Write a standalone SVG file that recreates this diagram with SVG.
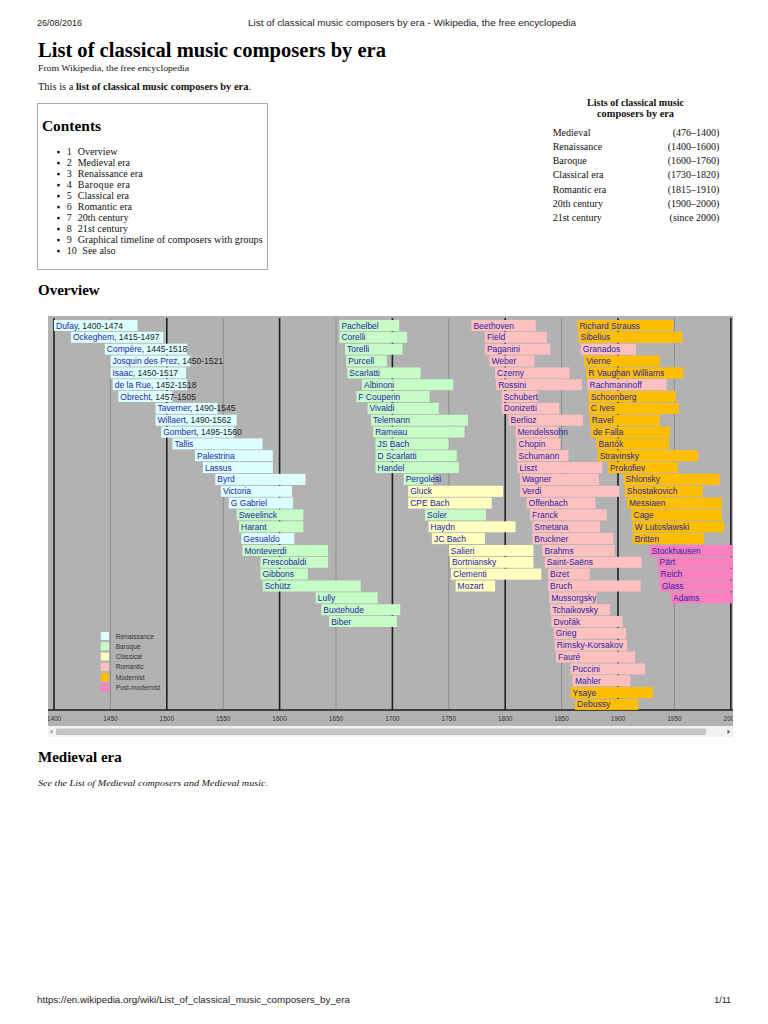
<svg xmlns="http://www.w3.org/2000/svg" width="768" height="1024" viewBox="0 0 768 1024">
<style>
.sans{font-family:"Liberation Sans",Arial,sans-serif}
.serif{font-family:"Liberation Serif","Times New Roman",serif}
.n{font-family:"Liberation Sans",Arial,sans-serif;font-size:8.5px;fill:#2424a8}
.yr{fill:#222}
.R{fill:#ddffff}
.B{fill:#c6fcc6}
.C{fill:#ffffc0}
.P{fill:#ffc0c0}
.M{fill:#ffbf00}
.X{fill:#fb80c0}
.maj{stroke:#1e1e1e;stroke-width:1.6}
.min{stroke:#8c8c8c;stroke-width:1}
.ax{font-family:"Liberation Sans",Arial,sans-serif;font-size:6.5px;fill:#333;text-anchor:middle}
.lg{font-family:"Liberation Sans",Arial,sans-serif;font-size:6.6px;fill:#333}
.toc{font-family:"Liberation Serif","Times New Roman",serif;font-size:10px;fill:#111}
.side{font-family:"Liberation Serif","Times New Roman",serif;font-size:10px;fill:#111}
</style>
<defs>
<clipPath id="chartclip"><rect x="48" y="316" width="685" height="410"/></clipPath>
</defs>
<rect width="768" height="1024" fill="#fff"/>

<!-- page header -->
<text class="sans" x="37" y="26" font-size="9" fill="#222" textLength="45">26/08/2016</text>
<text class="sans" x="248" y="26" font-size="9.5" fill="#222" textLength="328" lengthAdjust="spacingAndGlyphs">List of classical music composers by era - Wikipedia, the free encyclopedia</text>

<text class="serif" x="38" y="57" font-size="20" font-weight="bold" fill="#000" textLength="348" lengthAdjust="spacingAndGlyphs">List of classical music composers by era</text>
<text class="serif" x="38" y="71" font-size="8.5" fill="#111" textLength="151" lengthAdjust="spacingAndGlyphs">From Wikipedia, the free encyclopedia</text>
<text class="serif" x="38" y="90" font-size="9.5" fill="#111" textLength="213" lengthAdjust="spacingAndGlyphs">This is a <tspan font-weight="bold">list of classical music composers by era</tspan>.</text>

<!-- contents box -->
<g id="contents">
<rect x="37.5" y="103.5" width="230" height="166" fill="#fff" stroke="#aaa" stroke-width="1"/>
<text class="serif" x="42" y="131" font-size="14.5" font-weight="bold" fill="#000" textLength="59" lengthAdjust="spacingAndGlyphs">Contents</text>
<g fill="#111">
<rect x="57.3" y="150.9" width="2.4" height="2.4"/>
<rect x="57.3" y="161.9" width="2.4" height="2.4"/>
<rect x="57.3" y="172.9" width="2.4" height="2.4"/>
<rect x="57.3" y="183.9" width="2.4" height="2.4"/>
<rect x="57.3" y="194.9" width="2.4" height="2.4"/>
<rect x="57.3" y="205.9" width="2.4" height="2.4"/>
<rect x="57.3" y="216.9" width="2.4" height="2.4"/>
<rect x="57.3" y="227.9" width="2.4" height="2.4"/>
<rect x="57.3" y="238.9" width="2.4" height="2.4"/>
<rect x="57.3" y="249.9" width="2.4" height="2.4"/>
</g>
<text class="toc" x="66.7" y="154.7">1</text><text class="toc" x="77.7" y="154.7" textLength="39.7">Overview</text>
<text class="toc" x="66.7" y="165.7">2</text><text class="toc" x="77.7" y="165.7" textLength="52.3">Medieval era</text>
<text class="toc" x="66.7" y="176.7">3</text><text class="toc" x="77.7" y="176.7" textLength="65">Renaissance era</text>
<text class="toc" x="66.7" y="187.7">4</text><text class="toc" x="77.7" y="187.7" textLength="52.3">Baroque era</text>
<text class="toc" x="66.7" y="198.7">5</text><text class="toc" x="77.7" y="198.7" textLength="51.3">Classical era</text>
<text class="toc" x="66.7" y="209.7">6</text><text class="toc" x="77.7" y="209.7" textLength="54.3">Romantic era</text>
<text class="toc" x="66.7" y="220.7">7</text><text class="toc" x="77.7" y="220.7" textLength="50.7">20th century</text>
<text class="toc" x="66.7" y="231.7">8</text><text class="toc" x="77.7" y="231.7" textLength="50.3">21st century</text>
<text class="toc" x="66.7" y="242.7">9</text><text class="toc" x="77.7" y="242.7" textLength="185" lengthAdjust="spacingAndGlyphs">Graphical timeline of composers with groups</text>
<text class="toc" x="66.7" y="253.7">10</text><text class="toc" x="82.3" y="253.7" textLength="33.3">See also</text>
</g>

<!-- sidebar -->
<g id="sidebar">
<text class="side" x="635.5" y="105.5" font-weight="bold" text-anchor="middle" textLength="97" lengthAdjust="spacingAndGlyphs">Lists of classical music</text>
<text class="side" x="635.5" y="117" font-weight="bold" text-anchor="middle" textLength="77" lengthAdjust="spacingAndGlyphs">composers by era</text>
<text class="side" x="552.7" y="135.5">Medieval</text><text class="side" x="719.3" y="135.5" text-anchor="end">(476–1400)</text>
<text class="side" x="552.7" y="149.8">Renaissance</text><text class="side" x="719.3" y="149.8" text-anchor="end">(1400–1600)</text>
<text class="side" x="552.7" y="164.1">Baroque</text><text class="side" x="719.3" y="164.1" text-anchor="end">(1600–1760)</text>
<text class="side" x="552.7" y="178.4">Classical era</text><text class="side" x="719.3" y="178.4" text-anchor="end">(1730–1820)</text>
<text class="side" x="552.7" y="192.7">Romantic era</text><text class="side" x="719.3" y="192.7" text-anchor="end">(1815–1910)</text>
<text class="side" x="552.7" y="207">20th century</text><text class="side" x="719.3" y="207" text-anchor="end">(1900–2000)</text>
<text class="side" x="552.7" y="221.3">21st century</text><text class="side" x="719.3" y="221.3" text-anchor="end">(since 2000)</text>
</g>

<text class="serif" x="38" y="295" font-size="15" font-weight="bold" fill="#000">Overview</text>

<!-- timeline chart -->
<g id="chart" clip-path="url(#chartclip)">
<rect x="48" y="316" width="685" height="410" fill="#b2b2b2"/>
<g id="grid">
<line class="min" x1="110.4" y1="318" x2="110.4" y2="710"/>
<line class="min" x1="223.2" y1="318" x2="223.2" y2="710"/>
<line class="min" x1="336" y1="318" x2="336" y2="710"/>
<line class="min" x1="448.8" y1="318" x2="448.8" y2="710"/>
<line class="min" x1="561.6" y1="318" x2="561.6" y2="710"/>
<line class="min" x1="674.4" y1="318" x2="674.4" y2="710"/>
<line class="maj" x1="54" y1="318" x2="54" y2="710"/>
<line class="maj" x1="166.8" y1="318" x2="166.8" y2="710"/>
<line class="maj" x1="279.6" y1="318" x2="279.6" y2="710"/>
<line class="maj" x1="392.4" y1="318" x2="392.4" y2="710"/>
<line class="maj" x1="505.2" y1="318" x2="505.2" y2="710"/>
<line class="maj" x1="618" y1="318" x2="618" y2="710"/>
<line class="maj" x1="730.8" y1="318" x2="730.8" y2="710"/>
<line x1="48" y1="710" x2="733" y2="710" stroke="#1e1e1e" stroke-width="1.4"/>
</g>
<g id="axis-labels">
<text class="ax" x="54" y="720.5">1400</text>
<text class="ax" x="110.4" y="720.5">1450</text>
<text class="ax" x="166.8" y="720.5">1500</text>
<text class="ax" x="223.2" y="720.5">1550</text>
<text class="ax" x="279.6" y="720.5">1600</text>
<text class="ax" x="336" y="720.5">1650</text>
<text class="ax" x="392.4" y="720.5">1700</text>
<text class="ax" x="448.8" y="720.5">1750</text>
<text class="ax" x="505.2" y="720.5">1800</text>
<text class="ax" x="561.6" y="720.5">1850</text>
<text class="ax" x="618" y="720.5">1900</text>
<text class="ax" x="674.4" y="720.5">1950</text>
<text class="ax" x="730.8" y="720.5">2000</text>
</g>

<!-- column 1 -->
<g id="dufay" transform="translate(54,320)"><rect class="R" width="83.5" height="11"/><text class="n" x="2" y="8.6">Dufay<tspan class="yr">, 1400-1474</tspan></text></g>
<g id="ockeghem" transform="translate(70.9,331.8)"><rect class="R" width="92.5" height="11"/><text class="n" x="2" y="8.6">Ockeghem<tspan class="yr">, 1415-1497</tspan></text></g>
<g id="compere" transform="translate(104.8,343.7)"><rect class="R" width="82.3" height="11"/><text class="n" x="2" y="8.6">Compère<tspan class="yr">, 1445-1518</tspan></text></g>
<g id="josquin" transform="translate(110.4,355.5)"><rect class="R" width="80.1" height="11"/><text class="n" x="2" y="8.6">Josquin des Prez<tspan class="yr">, 1450-1521</tspan></text></g>
<g id="isaac" transform="translate(110.4,367.4)"><rect class="R" width="75.6" height="11"/><text class="n" x="2" y="8.6">Isaac<tspan class="yr">, 1450-1517</tspan></text></g>
<g id="delarue" transform="translate(112.7,379.2)"><rect class="R" width="74.4" height="11"/><text class="n" x="2" y="8.6">de la Rue<tspan class="yr">, 1452-1518</tspan></text></g>
<g id="obrecht" transform="translate(118.3,391)"><rect class="R" width="54.1" height="11"/><text class="n" x="2" y="8.6">Obrecht<tspan class="yr">, 1457-1505</tspan></text></g>
<g id="taverner" transform="translate(155.5,402.9)"><rect class="R" width="62" height="11"/><text class="n" x="2" y="8.6">Taverner<tspan class="yr">, 1490-1545</tspan></text></g>
<g id="willaert" transform="translate(155.5,414.7)"><rect class="R" width="81.2" height="11"/><text class="n" x="2" y="8.6">Willaert<tspan class="yr">, 1490-1562</tspan></text></g>
<g id="gombert" transform="translate(161.2,426.6)"><rect class="R" width="73.3" height="11"/><text class="n" x="2" y="8.6">Gombert<tspan class="yr">, 1495-1560</tspan></text></g>
<g id="tallis" transform="translate(172.4,438.4)"><rect class="R" width="90.2" height="11"/><text class="n" x="2" y="8.6">Tallis</text></g>
<g id="palestrina" transform="translate(195,450.2)"><rect class="R" width="77.8" height="11"/><text class="n" x="2" y="8.6">Palestrina</text></g>
<g id="lassus" transform="translate(202.9,462.1)"><rect class="R" width="69.9" height="11"/><text class="n" x="2" y="8.6">Lassus</text></g>
<g id="byrd" transform="translate(215.3,473.9)"><rect class="R" width="90.2" height="11"/><text class="n" x="2" y="8.6">Byrd</text></g>
<g id="victoria" transform="translate(220.9,485.8)"><rect class="R" width="71.1" height="11"/><text class="n" x="2" y="8.6">Victoria</text></g>
<g id="ggabrieli" transform="translate(228.8,497.6)"><rect class="R" width="64.3" height="11"/><text class="n" x="2" y="8.6">G Gabriel</text></g>
<g id="sweelinck" transform="translate(236.7,509.4)"><rect class="B" width="66.6" height="11"/><text class="n" x="2" y="8.6">Sweelinck</text></g>
<g id="harant" transform="translate(239,521.3)"><rect class="B" width="64.3" height="11"/><text class="n" x="2" y="8.6">Harant</text></g>
<g id="gesualdo" transform="translate(241.3,533.1)"><rect class="R" width="53" height="11"/><text class="n" x="2" y="8.6">Gesualdo</text></g>
<g id="monteverdi" transform="translate(242.4,545)"><rect class="B" width="85.7" height="11"/><text class="n" x="2" y="8.6">Monteverdi</text></g>
<g id="frescobaldi" transform="translate(260.4,556.8)"><rect class="B" width="67.7" height="11"/><text class="n" x="2" y="8.6">Frescobaldi</text></g>
<g id="gibbons" transform="translate(260.4,568.6)"><rect class="B" width="47.4" height="11"/><text class="n" x="2" y="8.6">Gibbons</text></g>
<g id="schutz" transform="translate(262.7,580.5)"><rect class="B" width="98.1" height="11"/><text class="n" x="2" y="8.6">Schütz</text></g>
<g id="lully" transform="translate(315.7,592.3)"><rect class="B" width="62" height="11"/><text class="n" x="2" y="8.6">Lully</text></g>
<g id="buxtehude" transform="translate(321.3,604.2)"><rect class="B" width="79" height="11"/><text class="n" x="2" y="8.6">Buxtehude</text></g>
<g id="biber" transform="translate(329.2,616)"><rect class="B" width="67.7" height="11"/><text class="n" x="2" y="8.6">Biber</text></g>

<!-- column 2 -->
<g id="pachelbel" transform="translate(339.4,320)"><rect class="B" width="59.8" height="11"/><text class="n" x="2" y="8.6">Pachelbel</text></g>
<g id="corelli" transform="translate(339.4,331.8)"><rect class="B" width="67.7" height="11"/><text class="n" x="2" y="8.6">Corelli</text></g>
<g id="torelli" transform="translate(345,343.7)"><rect class="B" width="57.5" height="11"/><text class="n" x="2" y="8.6">Torelli</text></g>
<g id="purcell" transform="translate(346.2,355.5)"><rect class="B" width="40.6" height="11"/><text class="n" x="2" y="8.6">Purcell</text></g>
<g id="scarlatti" transform="translate(347.3,367.4)"><rect class="B" width="73.3" height="11"/><text class="n" x="2" y="8.6">Scarlatti</text></g>
<g id="albinoni" transform="translate(362,379.2)"><rect class="B" width="91.3" height="11"/><text class="n" x="2" y="8.6">Albinoni</text></g>
<g id="fcouperin" transform="translate(356.3,391)"><rect class="B" width="73.3" height="11"/><text class="n" x="2" y="8.6">F Couperin</text></g>
<g id="vivaldi" transform="translate(367.6,402.9)"><rect class="B" width="71.1" height="11"/><text class="n" x="2" y="8.6">Vivaldi</text></g>
<g id="telemann" transform="translate(371,414.7)"><rect class="B" width="97" height="11"/><text class="n" x="2" y="8.6">Telemann</text></g>
<g id="rameau" transform="translate(373.2,426.6)"><rect class="B" width="91.4" height="11"/><text class="n" x="2" y="8.6">Rameau</text></g>
<g id="jsbach" transform="translate(375.5,438.4)"><rect class="B" width="73.3" height="11"/><text class="n" x="2" y="8.6">JS Bach</text></g>
<g id="dscarlatti" transform="translate(375.5,450.2)"><rect class="B" width="81.2" height="11"/><text class="n" x="2" y="8.6">D Scarlatti</text></g>
<g id="handel" transform="translate(375.5,462.1)"><rect class="B" width="83.5" height="11"/><text class="n" x="2" y="8.6">Handel</text></g>
<g id="pergolesi" transform="translate(403.7,473.9)"><rect class="B" width="29.3" height="11"/><text class="n" x="2" y="8.6">Pergolesi</text></g>
<g id="gluck" transform="translate(408.2,485.8)"><rect class="C" width="94.8" height="11"/><text class="n" x="2" y="8.6">Gluck</text></g>
<g id="cpebach" transform="translate(408.2,497.6)"><rect class="C" width="83.5" height="11"/><text class="n" x="2" y="8.6">CPE Bach</text></g>
<g id="soler" transform="translate(425.1,509.4)"><rect class="B" width="60.9" height="11"/><text class="n" x="2" y="8.6">Soler</text></g>
<g id="haydn" transform="translate(428.5,521.3)"><rect class="C" width="87" height="11"/><text class="n" x="2" y="8.6">Haydn</text></g>
<g id="jcbach" transform="translate(431.9,533.1)"><rect class="C" width="53" height="11"/><text class="n" x="2" y="8.6">JC Bach</text></g>
<g id="salieri" transform="translate(448.8,545)"><rect class="C" width="84.6" height="11"/><text class="n" x="2" y="8.6">Salieri</text></g>
<g id="bortniansky" transform="translate(449.9,556.8)"><rect class="C" width="83.5" height="11"/><text class="n" x="2" y="8.6">Bortniansky</text></g>
<g id="clementi" transform="translate(451.1,568.6)"><rect class="C" width="90.2" height="11"/><text class="n" x="2" y="8.6">Clementi</text></g>
<g id="mozart" transform="translate(455.6,580.5)"><rect class="C" width="39.5" height="11"/><text class="n" x="2" y="8.6">Mozart</text></g>

<!-- column 3 -->
<g id="beethoven" transform="translate(471.4,320)"><rect class="P" width="64.3" height="11"/><text class="n" x="2" y="8.6">Beethoven</text></g>
<g id="field" transform="translate(484.9,331.8)"><rect class="P" width="62" height="11"/><text class="n" x="2" y="8.6">Field</text></g>
<g id="paganini" transform="translate(484.9,343.7)"><rect class="P" width="65.4" height="11"/><text class="n" x="2" y="8.6">Paganini</text></g>
<g id="weber" transform="translate(489.4,355.5)"><rect class="P" width="45.1" height="11"/><text class="n" x="2" y="8.6">Weber</text></g>
<g id="czerny" transform="translate(495.1,367.4)"><rect class="P" width="74.5" height="11"/><text class="n" x="2" y="8.6">Czerny</text></g>
<g id="rossini" transform="translate(496.2,379.2)"><rect class="P" width="85.7" height="11"/><text class="n" x="2" y="8.6">Rossini</text></g>
<g id="schubert" transform="translate(501.8,391)"><rect class="P" width="36" height="11"/><text class="n" x="2" y="8.6">Schubert</text></g>
<g id="donizetti" transform="translate(501.8,402.9)"><rect class="P" width="57.5" height="11"/><text class="n" x="2" y="8.6">Donizetti</text></g>
<g id="berlioz" transform="translate(508.6,414.7)"><rect class="P" width="74.4" height="11"/><text class="n" x="2" y="8.6">Berlioz</text></g>
<g id="mendelssohn" transform="translate(515.4,426.6)"><rect class="P" width="42.9" height="11"/><text class="n" x="2" y="8.6">Mendelssohn</text></g>
<g id="chopin" transform="translate(516.5,438.4)"><rect class="P" width="44" height="11"/><text class="n" x="2" y="8.6">Chopin</text></g>
<g id="schumann" transform="translate(516.5,450.2)"><rect class="P" width="51.9" height="11"/><text class="n" x="2" y="8.6">Schumann</text></g>
<g id="liszt" transform="translate(517.6,462.1)"><rect class="P" width="84.6" height="11"/><text class="n" x="2" y="8.6">Liszt</text></g>
<g id="wagner" transform="translate(519.9,473.9)"><rect class="P" width="79" height="11"/><text class="n" x="2" y="8.6">Wagner</text></g>
<g id="verdi" transform="translate(519.9,485.8)"><rect class="P" width="99.3" height="11"/><text class="n" x="2" y="8.6">Verdi</text></g>
<g id="offenbach" transform="translate(526.6,497.6)"><rect class="P" width="68.8" height="11"/><text class="n" x="2" y="8.6">Offenbach</text></g>
<g id="franck" transform="translate(530,509.4)"><rect class="P" width="76.7" height="11"/><text class="n" x="2" y="8.6">Franck</text></g>
<g id="smetana" transform="translate(532.3,521.3)"><rect class="P" width="67.7" height="11"/><text class="n" x="2" y="8.6">Smetana</text></g>
<g id="bruckner" transform="translate(532.3,533.1)"><rect class="P" width="81.2" height="11"/><text class="n" x="2" y="8.6">Bruckner</text></g>
<g id="brahms" transform="translate(542.4,545)"><rect class="P" width="72.2" height="11"/><text class="n" x="2" y="8.6">Brahms</text></g>
<g id="saintsaens" transform="translate(544.7,556.8)"><rect class="P" width="97" height="11"/><text class="n" x="2" y="8.6">Saint-Saëns</text></g>
<g id="bizet" transform="translate(548.1,568.6)"><rect class="P" width="41.7" height="11"/><text class="n" x="2" y="8.6">Bizet</text></g>
<g id="bruch" transform="translate(548.1,580.5)"><rect class="P" width="92.5" height="11"/><text class="n" x="2" y="8.6">Bruch</text></g>
<g id="mussorgsky" transform="translate(549.2,592.3)"><rect class="P" width="47.4" height="11"/><text class="n" x="2" y="8.6">Mussorgsky</text></g>
<g id="tchaikovsky" transform="translate(550.3,604.2)"><rect class="P" width="59.8" height="11"/><text class="n" x="2" y="8.6">Tchaikovsky</text></g>
<g id="dvorak" transform="translate(551.4,616)"><rect class="P" width="71.1" height="11"/><text class="n" x="2" y="8.6">Dvořák</text></g>
<g id="grieg" transform="translate(553.7,627.8)"><rect class="P" width="72.2" height="11"/><text class="n" x="2" y="8.6">Grieg</text></g>
<g id="rimskykorsakov" transform="translate(554.8,639.7)"><rect class="P" width="72.2" height="11"/><text class="n" x="2" y="8.6">Rimsky-Korsakov</text></g>
<g id="faure" transform="translate(556,651.5)"><rect class="P" width="79.1" height="11"/><text class="n" x="2" y="8.6">Fauré</text></g>
<g id="puccini" transform="translate(570.6,663.4)"><rect class="P" width="74.5" height="11"/><text class="n" x="2" y="8.6">Puccini</text></g>
<g id="mahler" transform="translate(572.9,675.2)"><rect class="P" width="57.5" height="11"/><text class="n" x="2" y="8.6">Mahler</text></g>
<g id="ysaye" transform="translate(570.6,687)"><rect class="M" width="82.4" height="11"/><text class="n" x="2" y="8.6">Ysaÿe</text></g>
<g id="debussy" transform="translate(575.1,698.9)"><rect class="M" width="63.2" height="11"/><text class="n" x="2" y="8.6">Debussy</text></g>

<!-- column 4 -->
<g id="rstrauss" transform="translate(577.4,320)"><rect class="M" width="95.9" height="11"/><text class="n" x="2" y="8.6">Richard Strauss</text></g>
<g id="sibelius" transform="translate(578.5,331.8)"><rect class="M" width="103.8" height="11"/><text class="n" x="2" y="8.6">Sibelius</text></g>
<g id="granados" transform="translate(580.8,343.7)"><rect class="P" width="55.3" height="11"/><text class="n" x="2" y="8.6">Granados</text></g>
<g id="vierne" transform="translate(584.2,355.5)"><rect class="M" width="75.6" height="11"/><text class="n" x="2" y="8.6">Vierne</text></g>
<g id="rvw" transform="translate(586.4,367.4)"><rect class="M" width="97" height="11"/><text class="n" x="2" y="8.6">R Vaughan Williams</text></g>
<g id="rachmaninoff" transform="translate(587.5,379.2)"><rect class="P" width="79" height="11"/><text class="n" x="2" y="8.6">Rachmaninoff</text></g>
<g id="schoenberg" transform="translate(588.7,391)"><rect class="M" width="86.9" height="11"/><text class="n" x="2" y="8.6">Schoenberg</text></g>
<g id="cives" transform="translate(588.7,402.9)"><rect class="M" width="90.2" height="11"/><text class="n" x="2" y="8.6">C Ives</text></g>
<g id="ravel" transform="translate(589.8,414.7)"><rect class="M" width="69.9" height="11"/><text class="n" x="2" y="8.6">Ravel</text></g>
<g id="defalla" transform="translate(590.9,426.6)"><rect class="M" width="79" height="11"/><text class="n" x="2" y="8.6">de Falla</text></g>
<g id="bartok" transform="translate(596.6,438.4)"><rect class="M" width="72.2" height="11"/><text class="n" x="2" y="8.6">Bartók</text></g>
<g id="stravinsky" transform="translate(597.7,450.2)"><rect class="M" width="100.4" height="11"/><text class="n" x="2" y="8.6">Stravinsky</text></g>
<g id="prokofiev" transform="translate(607.9,462.1)"><rect class="M" width="69.9" height="11"/><text class="n" x="2" y="8.6">Prokofiev</text></g>
<g id="shlonsky" transform="translate(623.6,473.9)"><rect class="M" width="95.9" height="11"/><text class="n" x="2" y="8.6">Shlonsky</text></g>
<g id="shostakovich" transform="translate(624.8,485.8)"><rect class="M" width="77.8" height="11"/><text class="n" x="2" y="8.6">Shostakovich</text></g>
<g id="messiaen" transform="translate(627,497.6)"><rect class="M" width="94.8" height="11"/><text class="n" x="2" y="8.6">Messiaen</text></g>
<g id="cage" transform="translate(631.5,509.4)"><rect class="M" width="90.2" height="11"/><text class="n" x="2" y="8.6">Cage</text></g>
<g id="lutoslawski" transform="translate(632.7,521.3)"><rect class="M" width="91.4" height="11"/><text class="n" x="2" y="8.6">W Lutoslawski</text></g>
<g id="britten" transform="translate(632.7,533.1)"><rect class="M" width="71.1" height="11"/><text class="n" x="2" y="8.6">Britten</text></g>
<g id="stockhausen" transform="translate(649.6,545)"><rect class="X" width="84" height="11"/><text class="n" x="2" y="8.6">Stockhausen</text></g>
<g id="part" transform="translate(657.5,556.8)"><rect class="X" width="76" height="11"/><text class="n" x="2" y="8.6">Pärt</text></g>
<g id="reich" transform="translate(658.6,568.6)"><rect class="X" width="75" height="11"/><text class="n" x="2" y="8.6">Reich</text></g>
<g id="glass" transform="translate(659.7,580.5)"><rect class="X" width="74" height="11"/><text class="n" x="2" y="8.6">Glass</text></g>
<g id="adams" transform="translate(671,592.3)"><rect class="X" width="62" height="11"/><text class="n" x="2" y="8.6">Adams</text></g>

<!-- legend -->
<g id="legend">
<rect class="R" x="100.8" y="632" width="8.2" height="8"/><text class="lg" x="115.7" y="638.5">Renaissance</text>
<rect class="B" x="100.8" y="642.3" width="8.2" height="8"/><text class="lg" x="115.7" y="648.8">Baroque</text>
<rect class="C" x="100.8" y="652.6" width="8.2" height="8"/><text class="lg" x="115.7" y="659.1">Classical</text>
<rect class="P" x="100.8" y="662.9" width="8.2" height="8"/><text class="lg" x="115.7" y="669.4">Romantic</text>
<rect class="M" x="100.8" y="673.2" width="8.2" height="8"/><text class="lg" x="115.7" y="679.7">Modernist</text>
<rect class="X" x="100.8" y="683.5" width="8.2" height="8"/><text class="lg" x="115.7" y="690">Post-modernist</text>
</g>
</g>

<!-- scrollbar -->
<g id="scrollbar">
<rect x="48" y="726" width="685" height="11" fill="#f1f1f1"/>
<rect x="56" y="728.5" width="650" height="6.5" rx="1" fill="#c4c4c4"/>
<path d="M52.5 729.5 L50 731.7 L52.5 733.9 Z" fill="#a0a0a0"/>
<path d="M727.5 729.5 L730 731.7 L727.5 733.9 Z" fill="#505050"/>
</g>

<text class="serif" x="38" y="761.7" font-size="15" font-weight="bold" fill="#000">Medieval era</text>
<text class="serif" x="38" y="786" font-size="9" font-style="italic" fill="#111" textLength="230" lengthAdjust="spacingAndGlyphs">See the List of Medieval composers and Medieval music.</text>

<!-- footer -->
<text class="sans" x="37" y="1003" font-size="9" fill="#222" textLength="313" lengthAdjust="spacingAndGlyphs">https://en.wikipedia.org/wiki/List_of_classical_music_composers_by_era</text>
<text class="sans" x="731" y="1003" font-size="9" fill="#222" text-anchor="end">1/11</text>
</svg>
